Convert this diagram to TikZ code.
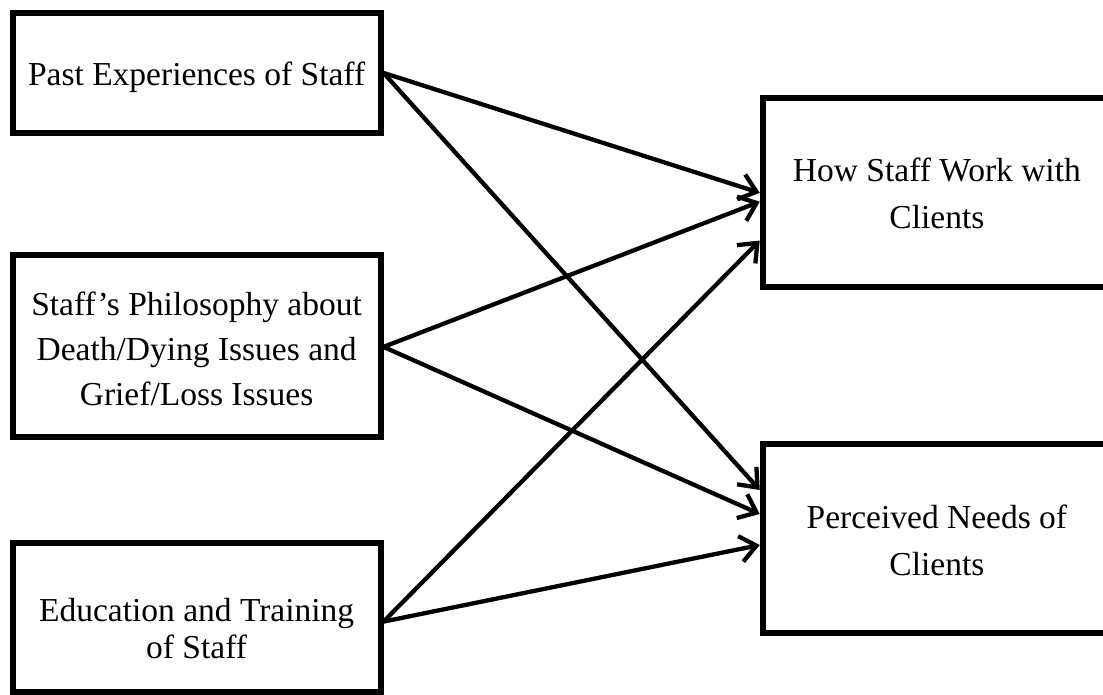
\documentclass[tikz,border=0pt]{standalone}
\usepackage{fontspec}
\setmainfont{Liberation Serif}
\usetikzlibrary{arrows.meta}
\begin{document}
\begin{tikzpicture}[x=1pt,y=-1pt,
  box/.style={draw=black, line width=6pt, rectangle, inner sep=0pt, fill=white},
  lbl/.style={align=center, inner sep=0pt, text=black},
  conn/.style={draw=black, line width=4.3pt, -{Straight Barb[length=16pt,width=26pt]}}]
\useasboundingbox[fill=white] (0,0) rectangle (1103,694);
% boxes
\node[box, minimum width=367.8pt, minimum height=120.3pt] (A) at (196.6,72.9) {};
\node[box, minimum width=367.8pt, minimum height=181.7pt] (B) at (196.6,345.9) {};
\node[box, minimum width=367.8pt, minimum height=148.7pt] (C) at (196.6,617.6) {};
\node[box, minimum width=348.3pt, minimum height=189pt] (D) at (936.9,192.8) {};
\node[box, minimum width=348.3pt, minimum height=189.5pt] (E) at (936.9,538.7) {};
% labels
\node[lbl, font=\fontsize{33.5pt}{45.5pt}\selectfont, yshift=-4.3pt] (tA) at (A.center) {Past Experiences of Staff};
\node[lbl, font=\fontsize{33.5pt}{45.3pt}\selectfont, yshift=-3pt] (tB) at (B.center) {Staff’s Philosophy about\\Death/Dying Issues and\\Grief/Loss Issues};
\node[lbl, font=\fontsize{33.5pt}{36.5pt}\selectfont, yshift=-10.8pt] (tC) at (C.center) {Education and Training\\of Staff};
\node[lbl, font=\fontsize{33.5pt}{46.6pt}\selectfont, yshift=-0.7pt] (tD) at (D.center) {How Staff Work with\\Clients};
\node[lbl, font=\fontsize{33.5pt}{46.7pt}\selectfont, yshift=-1.5pt] (tE) at (E.center) {Perceived Needs of\\Clients};
% connectors
\draw[conn] (A.east) -- (D.west);
\draw[conn] (A.east) -- ([yshift=48.7pt]E.west);
\draw[conn] ([yshift=-1pt]B.east) -- ([yshift=-8.9pt]D.west);
\draw[conn] ([yshift=-1pt]B.east) -- ([yshift=24.7pt]E.west);
\draw[conn] ([yshift=-4pt]C.east) -- ([yshift=-47.7pt]D.west);
\draw[conn] ([yshift=-4pt]C.east) -- ([yshift=-6.3pt]E.west);
\end{tikzpicture}
\end{document}
